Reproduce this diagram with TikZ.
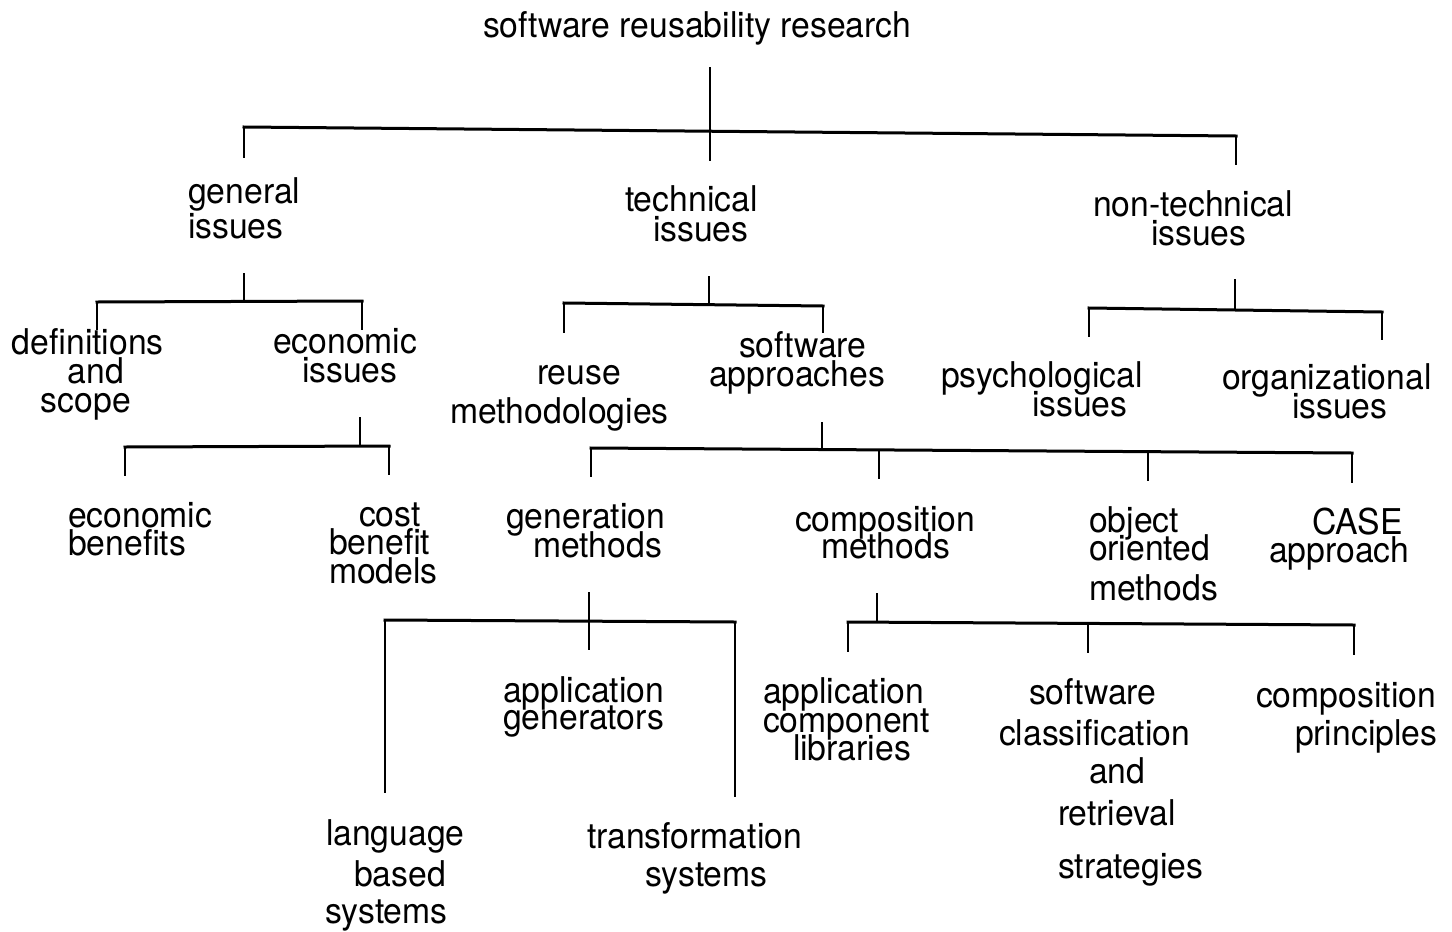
\documentclass[tikz,border=0pt]{standalone}
\usepackage{fontspec}
\setmainfont[FakeStretch=0.95]{TeX Gyre Heros}
% stack of lines: first line baseline = node baseline; \Rw{dy}{dx}{text} adds a line dy below, dx indented
\newcommand\Stk[1]{\vtop{\baselineskip=0pt\lineskip=0pt\lineskiplimit=-1000pt\relax #1}}
\newcommand\Fr[2]{\hbox{\hskip#1pt\relax #2}}
\newcommand\Rw[3]{\vskip#1pt\hbox{\hskip#2pt\relax #3}}
\begin{document}
\begin{tikzpicture}[x=1pt,y=-1pt,
  lbl/.style={anchor=base west,inner sep=0pt,outer sep=0pt,font=\fontsize{35.5}{35.5}\selectfont},
  stem/.style={line width=2pt,black},
  bar/.style={line width=3pt,black,line cap=rect}]
\useasboundingbox[fill=white] (0,0) rectangle (1452,932);

% ---------- labels ----------
\node[lbl] (root) at (483,37) {software reusability research};
\node[lbl] (gen) at (188,203) {\Stk{\Fr{0}{general}\Rw{35}{0}{issues}}};
\node[lbl] (tech) at (625,211) {\Stk{\Fr{0}{technical}\Rw{30}{28}{issues}}};
\node[lbl] (ntech) at (1093,216) {\Stk{\Fr{0}{non-technical}\Rw{29}{58}{issues}}};

\node[lbl] (defs) at (12,354) {\Stk{\Fr{0}{definitions}\Rw{29}{56}{and}\Rw{29}{29}{scope}}};
\node[lbl] (econ) at (273,353) {\Stk{\Fr{0}{economic}\Rw{29}{29}{issues}}};
\node[lbl] (reuse) at (450,384) {\Stk{\Fr{87}{reuse}\Rw{39}{0}{methodologies}}};
\node[lbl] (swapp) at (709,357) {\Stk{\Fr{30}{software}\Rw{29}{0}{approaches}}};
\node[lbl] (psych) at (941,387) {\Stk{\Fr{0}{psychological}\Rw{29}{91}{issues}}};
\node[lbl] (org) at (1222,389) {\Stk{\Fr{0}{organizational}\Rw{29}{70}{issues}}};

\node[lbl] (ebene) at (68,527) {\Stk{\Fr{0}{economic}\Rw{28}{0}{benefits}}};
\node[lbl] (cbm) at (329,526) {\Stk{\Fr{30}{cost}\Rw{28}{0}{benefit}\Rw{29}{0}{models}}};
\node[lbl] (genm) at (506,528) {\Stk{\Fr{0}{generation}\Rw{29}{27}{methods}}};
\node[lbl] (compm) at (795,531) {\Stk{\Fr{0}{composition}\Rw{27}{26}{methods}}};
\node[lbl] (oom) at (1089,532) {\Stk{\Fr{0}{object}\Rw{28}{0}{oriented}\Rw{40}{0}{methods}}};
\node[lbl] (case) at (1269,534) {\Stk{\Fr{43}{CASE}\Rw{28}{0}{approach}}};

\node[lbl] (appgen) at (503,702) {\Stk{\Fr{0}{application}\Rw{27}{0}{generators}}};
\node[lbl] (lbs) at (325,845) {\Stk{\Fr{1}{language}\Rw{41}{29}{based}\Rw{37}{0}{systems}}};
\node[lbl] (trans) at (587,848) {\Stk{\Fr{0}{transformation}\Rw{38}{58}{systems}}};
\node[lbl] (acl) at (763,703) {\Stk{\Fr{0}{application}\Rw{29}{0}{component}\Rw{28}{30}{libraries}}};
\node[lbl] (scrs) at (999,704) {\Stk{\Fr{30}{software}\Rw{41}{0}{classification}\Rw{38}{90}{and}\Rw{42}{59}{retrieval}\Rw{53}{59}{strategies}}};
\node[lbl] (cp) at (1256,707) {\Stk{\Fr{0}{composition}\Rw{38}{39}{principles}}};

% ---------- junction coordinates ----------
% root
\coordinate (r-top) at (710,67);   \coordinate (r-bot) at (710,161);
\coordinate (r-l) at (244,127);    \coordinate (r-r) at (1236,136);
\coordinate (r-ld) at (244,158);   \coordinate (r-rd) at (1236,165);
% general issues
\coordinate (g-top) at (244,273);  \coordinate (g-mid) at (244,302);
\coordinate (g-l) at (97,302);     \coordinate (g-r) at (362,301);
\coordinate (g-ld) at (97,330);    \coordinate (g-rd) at (362,330);
% economic issues
\coordinate (e-top) at (360,417);  \coordinate (e-mid) at (360,446);
\coordinate (e-l) at (125,447);    \coordinate (e-r) at (389,446);
\coordinate (e-ld) at (125,476);   \coordinate (e-rd) at (389,475);
% technical issues
\coordinate (t-top) at (709,276);  \coordinate (t-mid) at (709,304);
\coordinate (t-l) at (564,303);    \coordinate (t-r) at (823,306);
\coordinate (t-ld) at (564,333);   \coordinate (t-rd) at (823,333);
% non-technical issues
\coordinate (n-top) at (1235,279); \coordinate (n-mid) at (1235,310);
\coordinate (n-l) at (1089,308);   \coordinate (n-r) at (1382,312);
\coordinate (n-ld) at (1089,337);  \coordinate (n-rd) at (1382,340);
% software approaches
\coordinate (s-top) at (822,422);  \coordinate (s-mid) at (822,450);
\coordinate (s-l) at (591,448);    \coordinate (s-r) at (1352,453);
\coordinate (s-ld) at (591,477);
\coordinate (s-b) at (879,450);    \coordinate (s-bd) at (879,479);
\coordinate (s-c) at (1148,451);   \coordinate (s-cd) at (1148,481);
\coordinate (s-rd) at (1352,483);
% generation methods
\coordinate (gm-top) at (589,592); \coordinate (gm-bot) at (589,650);
\coordinate (gm-l) at (385,620);   \coordinate (gm-r) at (735,622);
\coordinate (gm-ld) at (385,793);  \coordinate (gm-rd) at (735,797);
% composition methods
\coordinate (cm-top) at (877,593); \coordinate (cm-mid) at (877,623);
\coordinate (cm-l) at (848,622);   \coordinate (cm-r) at (1354,625);
\coordinate (cm-ld) at (848,652);
\coordinate (cm-b) at (1088,624);  \coordinate (cm-bd) at (1088,653);
\coordinate (cm-rd) at (1354,655);

% ---------- connectors ----------
\draw[stem] (r-top) -- (r-bot);
\draw[bar] (r-l) -- (r-r);
\draw[stem] (r-l) -- (r-ld);
\draw[stem] (r-r) -- (r-rd);

\draw[stem] (g-top) -- (g-mid);
\draw[bar] (g-l) -- (g-r);
\draw[stem] (g-l) -- (g-ld);
\draw[stem] (g-r) -- (g-rd);

\draw[stem] (e-top) -- (e-mid);
\draw[bar] (e-l) -- (e-r);
\draw[stem] (e-l) -- (e-ld);
\draw[stem] (e-r) -- (e-rd);

\draw[stem] (t-top) -- (t-mid);
\draw[bar] (t-l) -- (t-r);
\draw[stem] (t-l) -- (t-ld);
\draw[stem] (t-r) -- (t-rd);

\draw[stem] (n-top) -- (n-mid);
\draw[bar] (n-l) -- (n-r);
\draw[stem] (n-l) -- (n-ld);
\draw[stem] (n-r) -- (n-rd);

\draw[stem] (s-top) -- (s-mid);
\draw[bar] (s-l) -- (s-r);
\draw[stem] (s-l) -- (s-ld);
\draw[stem] (s-b) -- (s-bd);
\draw[stem] (s-c) -- (s-cd);
\draw[stem] (s-r) -- (s-rd);

\draw[stem] (gm-top) -- (gm-bot);
\draw[bar] (gm-l) -- (gm-r);
\draw[stem] (gm-l) -- (gm-ld);
\draw[stem] (gm-r) -- (gm-rd);

\draw[stem] (cm-top) -- (cm-mid);
\draw[bar] (cm-l) -- (cm-r);
\draw[stem] (cm-l) -- (cm-ld);
\draw[stem] (cm-b) -- (cm-bd);
\draw[stem] (cm-r) -- (cm-rd);
\end{tikzpicture}
\end{document}
